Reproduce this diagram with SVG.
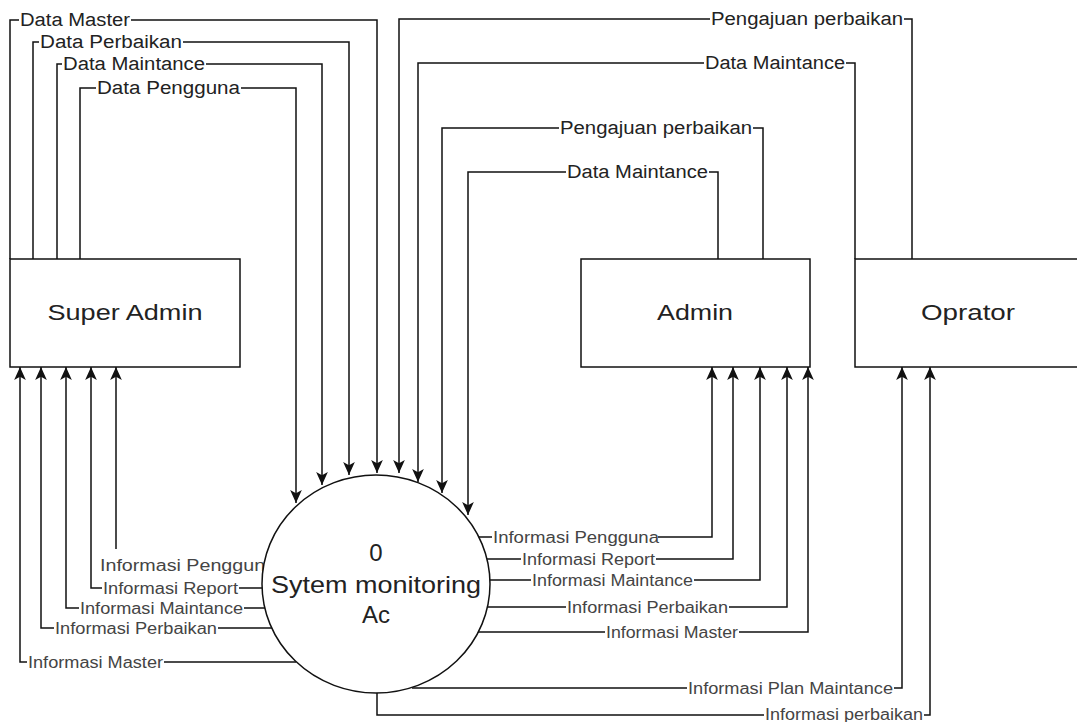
<svg xmlns="http://www.w3.org/2000/svg" width="1077" height="722" viewBox="0 0 1077 722">
<style>
.ln{fill:none;stroke:#111;stroke-width:1.5}
.bg{fill:#fff}
.t1{font-family:"Liberation Sans",Arial,sans-serif;font-size:18px;fill:#222}
.t2{font-family:"Liberation Sans",Arial,sans-serif;font-size:16px;fill:#444}
.nt{font-family:"Liberation Sans",Arial,sans-serif;font-size:22px;fill:#222;text-anchor:middle}
.box{fill:#fff;stroke:#111;stroke-width:1.5}
</style>
<defs>
<marker id="ar" viewBox="0 0 10 10" refX="10" refY="5" markerWidth="13" markerHeight="13" markerUnits="userSpaceOnUse" orient="auto">
<path d="M0,0.5 L10,5 L0,9.5 L2.5,5 z" fill="#111"/>
</marker>
</defs>
<rect width="1077" height="722" fill="#fff"/>
<g id="connectors">
<path class="ln" marker-end="url(#ar)" d="M10,259 V20 H377 V473"/>
<path class="ln" marker-end="url(#ar)" d="M33,259 V42 H349 V475"/>
<path class="ln" marker-end="url(#ar)" d="M57,259 V64 H322 V485"/>
<path class="ln" marker-end="url(#ar)" d="M80,259 V88 H296 V503"/>
<path class="ln" marker-end="url(#ar)" d="M912,259 V19 H399 V473"/>
<path class="ln" marker-end="url(#ar)" d="M855,259 V63 H418 V482"/>
<path class="ln" marker-end="url(#ar)" d="M763,259 V128 H442 V493"/>
<path class="ln" marker-end="url(#ar)" d="M718,259 V172 H468 V515"/>
<path class="ln" marker-end="url(#ar)" d="M264,565 H116 V367"/>
<path class="ln" marker-end="url(#ar)" d="M265,588 H91 V367"/>
<path class="ln" marker-end="url(#ar)" d="M265,608 H66 V367"/>
<path class="ln" marker-end="url(#ar)" d="M272,628 H41 V367"/>
<path class="ln" marker-end="url(#ar)" d="M296,662 H20 V367"/>
<path class="ln" marker-end="url(#ar)" d="M478,537 H712 V367"/>
<path class="ln" marker-end="url(#ar)" d="M487,559 H733 V367"/>
<path class="ln" marker-end="url(#ar)" d="M490,580 H760 V367"/>
<path class="ln" marker-end="url(#ar)" d="M487,607 H787 V367"/>
<path class="ln" marker-end="url(#ar)" d="M478,632 H808 V367"/>
<path class="ln" marker-end="url(#ar)" d="M412,688 H902 V367"/>
<path class="ln" marker-end="url(#ar)" d="M377,693 V715 H930 V367"/>
<g id="labels">
<rect class="bg" x="19" y="11" width="112" height="18"/><text class="t1" x="20" y="26" textLength="110" lengthAdjust="spacingAndGlyphs">Data Master</text>
<rect class="bg" x="39" y="33" width="144" height="18"/><text class="t1" x="40" y="48" textLength="142" lengthAdjust="spacingAndGlyphs">Data Perbaikan</text>
<rect class="bg" x="62" y="55" width="144" height="18"/><text class="t1" x="63" y="70" textLength="142" lengthAdjust="spacingAndGlyphs">Data Maintance</text>
<rect class="bg" x="96" y="79" width="145" height="18"/><text class="t1" x="97" y="94" textLength="143" lengthAdjust="spacingAndGlyphs">Data Pengguna</text>
<rect class="bg" x="710" y="10" width="194" height="18"/><text class="t1" x="711" y="25" textLength="192" lengthAdjust="spacingAndGlyphs">Pengajuan perbaikan</text>
<rect class="bg" x="704" y="54" width="142" height="18"/><text class="t1" x="705" y="69" textLength="140" lengthAdjust="spacingAndGlyphs">Data Maintance</text>
<rect class="bg" x="559" y="119" width="194" height="18"/><text class="t1" x="560" y="134" textLength="192" lengthAdjust="spacingAndGlyphs">Pengajuan perbaikan</text>
<rect class="bg" x="566" y="163" width="143" height="18"/><text class="t1" x="567" y="178" textLength="141" lengthAdjust="spacingAndGlyphs">Data Maintance</text>
<rect class="bg" x="99" y="549" width="180" height="25"/><text class="t2" x="100" y="570.5" textLength="176" lengthAdjust="spacingAndGlyphs">Informasi Pengguna</text>
<rect class="bg" x="102" y="580" width="137" height="16"/><text class="t2" x="103" y="593.5" textLength="135" lengthAdjust="spacingAndGlyphs">Informasi Report</text>
<rect class="bg" x="79" y="600" width="165" height="16"/><text class="t2" x="80" y="613.5" textLength="163" lengthAdjust="spacingAndGlyphs">Informasi Maintance</text>
<rect class="bg" x="54" y="620" width="164" height="16"/><text class="t2" x="55" y="633.5" textLength="162" lengthAdjust="spacingAndGlyphs">Informasi Perbaikan</text>
<rect class="bg" x="27" y="654" width="137" height="16"/><text class="t2" x="28" y="667.5" textLength="135" lengthAdjust="spacingAndGlyphs">Informasi Master</text>
<rect class="bg" x="492" y="530" width="166" height="15"/><text class="t2" x="493" y="543" textLength="166" lengthAdjust="spacingAndGlyphs">Informasi Pengguna</text>
<rect class="bg" x="521" y="551" width="135" height="16"/><text class="t2" x="522" y="564.5" textLength="133" lengthAdjust="spacingAndGlyphs">Informasi Report</text>
<rect class="bg" x="531" y="572" width="163" height="16"/><text class="t2" x="532" y="585.5" textLength="161" lengthAdjust="spacingAndGlyphs">Informasi Maintance</text>
<rect class="bg" x="566" y="599" width="163" height="16"/><text class="t2" x="567" y="612.5" textLength="161" lengthAdjust="spacingAndGlyphs">Informasi Perbaikan</text>
<rect class="bg" x="605" y="624" width="134" height="16"/><text class="t2" x="606" y="637.5" textLength="132" lengthAdjust="spacingAndGlyphs">Informasi Master</text>
<rect class="bg" x="687" y="680" width="207" height="16"/><text class="t2" x="688" y="693.5" textLength="205" lengthAdjust="spacingAndGlyphs">Informasi Plan Maintance</text>
<rect class="bg" x="764" y="707" width="160" height="15"/><text class="t2" x="765" y="720" textLength="158" lengthAdjust="spacingAndGlyphs">Informasi perbaikan</text>
</g>
</g>
<g id="super-admin">
<rect class="box" x="10" y="259" width="230" height="108"/>
<text class="nt" x="125" y="320" textLength="155" lengthAdjust="spacingAndGlyphs">Super Admin</text>
</g>
<g id="admin">
<rect class="box" x="581" y="259" width="229" height="108"/>
<text class="nt" x="695" y="320" textLength="76" lengthAdjust="spacingAndGlyphs">Admin</text>
</g>
<g id="oprator">
<rect class="box" x="855" y="259" width="240" height="108"/>
<text class="nt" x="968" y="320" textLength="94" lengthAdjust="spacingAndGlyphs">Oprator</text>
</g>
<g id="process-0">
<ellipse class="box" cx="376" cy="584" rx="114" ry="109"/>
<text class="nt" x="376" y="561" style="font-size:24px">0</text>
<text class="nt" x="376" y="593" style="font-size:24px" textLength="210" lengthAdjust="spacingAndGlyphs">Sytem monitoring</text>
<text class="nt" x="376" y="623" style="font-size:24px">Ac</text>
</g>
</svg>
